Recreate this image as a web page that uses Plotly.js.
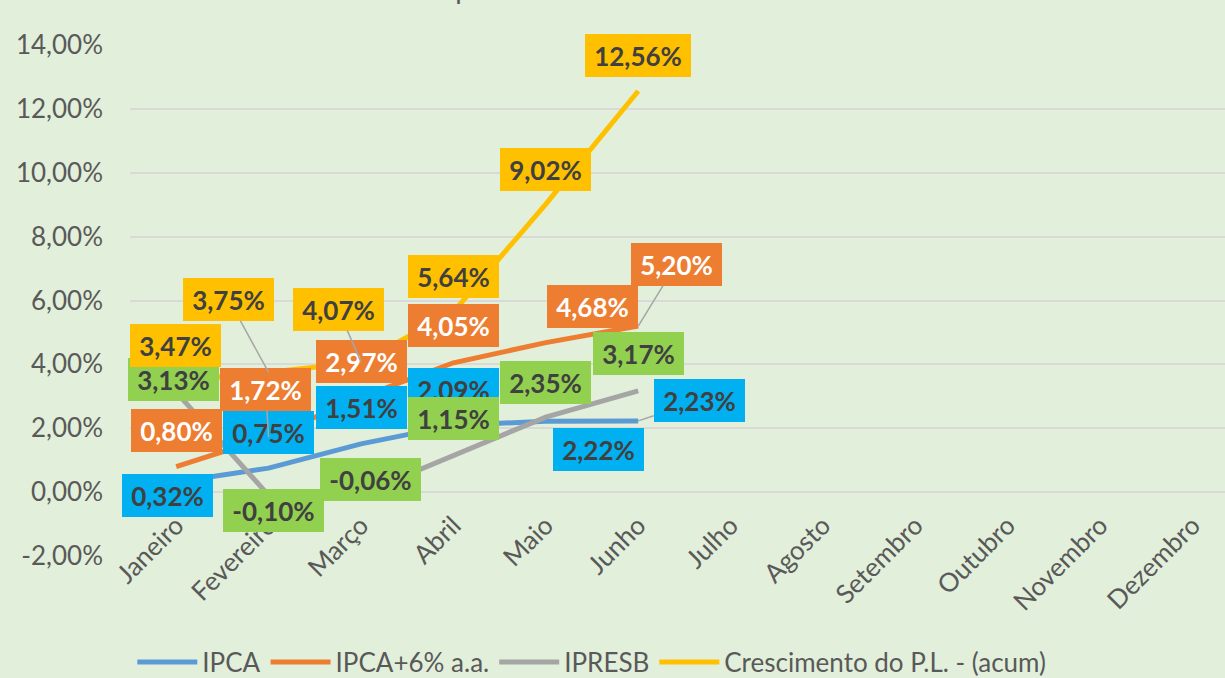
<!DOCTYPE html>
<html>
<head>
<meta charset="utf-8">
<script src="https://cdn.plot.ly/plotly-3.0.1.min.js"></script>
<style>html,body{margin:0;padding:0;background:#e2efda;overflow:hidden}</style>
</head>
<body>
<div id="chart" style="width:1225px;height:678px"></div>
<script>
// ---- data ----
const months = ['Janeiro','Fevereiro','Março','Abril','Maio','Junho','Julho','Agosto','Setembro','Outubro','Novembro','Dezembro'];
const ipca = [0.32, 0.75, 1.51, 2.09, 2.22, 2.23];
const ipca6 = [0.80, 1.72, 2.97, 4.05, 4.68, 5.20];
const ipresb = [3.13, -0.10, -0.06, 1.15, 2.35, 3.17];
const crescimento = [3.47, 3.75, 4.07, 5.64, 9.02, 12.56];
const seriesNames = ['IPCA', 'IPCA+6% a.a.', 'IPRESB', 'Crescimento do P.L. - (acum)'];
const yTicks = [-2, 0, 2, 4, 6, 8, 10, 12, 14];
const chartTitle = 'Comparativo de Rentabilidades';

// ---- styles / label placement (pixel offsets from each point) ----
const lineColors = ['#5b9bd5', '#ed7d31', '#a5a5a5', '#ffc000'];
const boxColors = ['#00b0f0', '#ed7d31', '#92d050', '#ffc000'];
const textColors = ['#404040', '#ffffff', '#404040', '#404040'];
const labelOffsets = [
  [[-9, 14], [0, -36], [0, -36], [0, -36], [53, 28], [61, -20]],
  [[0, -36], [-3, -48], [0, -36], [0, -37], [47, -36], [38, -62]],
  [[-3, -13], [5, 15], [9, -15], [0, -37], [0, -35], [0, -37]],
  [[-1, -36], [-40, -73], [-23, -53], [0, -36], [0, -35], [0, -35]]
];
const leaders = [
  [false, false, false, false, false, true],
  [false, true, false, false, false, true],
  [false, false, false, false, false, false],
  [false, true, true, false, false, false]
];

const allSeries = [ipca, ipca6, ipresb, crescimento];
const fmt = v => v.toFixed(2).replace('.', ',') + '%';

const traces = allSeries.map((vals, i) => ({
  type: 'scatter',
  mode: 'lines',
  name: seriesNames[i],
  x: months.slice(0, vals.length),
  y: vals,
  line: {color: lineColors[i], width: 5},
  hoverinfo: 'skip'
}));

const canvas = document.createElement('canvas');
const ctx = canvas.getContext('2d');
ctx.font = 'bold 26px Lato';

const annotations = [];
allSeries.forEach((vals, s) => {
  vals.forEach((v, i) => {
    const t = fmt(v);
    const w = Math.ceil(ctx.measureText(t).width) + 12;
    annotations.push({
      x: months[i], y: v, xref: 'x', yref: 'y',
      text: '<b>' + t + '</b>',
      showarrow: true,
      ax: labelOffsets[s][i][0], ay: labelOffsets[s][i][1],
      arrowhead: 0, arrowwidth: 1.5, standoff: 0,
      arrowcolor: leaders[s][i] ? '#a6a6a6' : 'rgba(0,0,0,0)',
      xanchor: 'center', yanchor: 'middle',
      bgcolor: boxColors[s], borderpad: 3, borderwidth: 0,
      width: w, height: 37,
      font: {family: 'Lato', size: 26, color: textColors[s]}
    });
  });
});

annotations.unshift({
  xref: 'paper', yref: 'paper', x: 0.419, y: 1.0744,
  xanchor: 'center', yanchor: 'bottom', showarrow: false,
  text: chartTitle,
  font: {family: 'Lato', size: 28, color: '#595959'}
});

const layout = {
  width: 1225, height: 678,
  margin: {l: 130, r: 0, t: 45, b: 122, autoexpand: false},
  paper_bgcolor: '#e2efda',
  plot_bgcolor: '#e2efda',
  showlegend: true,
  legend: {
    orientation: 'h', xref: 'container', yref: 'container',
    x: 0.108, xanchor: 'left', y: 0.058, yanchor: 'top',
    font: {family: 'Lato', size: 26, color: '#595959'},
    itemwidth: 60, bgcolor: 'rgba(0,0,0,0)'
  },
  xaxis: {
    type: 'category',
    categoryorder: 'array', categoryarray: months,
    tickvals: months, ticktext: months,
    range: [-0.5, 11.35],
    anchor: 'free', position: 0.125,
    showgrid: false, zeroline: false, showline: false,
    ticks: '', tickangle: -45, ticklabelstandoff: 12,
    tickfont: {family: 'Lato', size: 26, color: '#595959'}
  },
  yaxis: {
    range: [-2, 14],
    tickvals: yTicks,
    ticktext: yTicks.map(v => v.toFixed(2).replace('.', ',') + '%'),
    showgrid: true, gridcolor: '#d9d9d9', gridwidth: 2,
    zeroline: false, showline: false, ticks: '',
    ticklabelstandoff: 26,
    tickfont: {family: 'Lato', size: 26, color: '#595959'}
  },
  annotations: annotations
};

Plotly.newPlot('chart', traces, layout, {staticPlot: true, displayModeBar: false});
</script>
</body>
</html>
